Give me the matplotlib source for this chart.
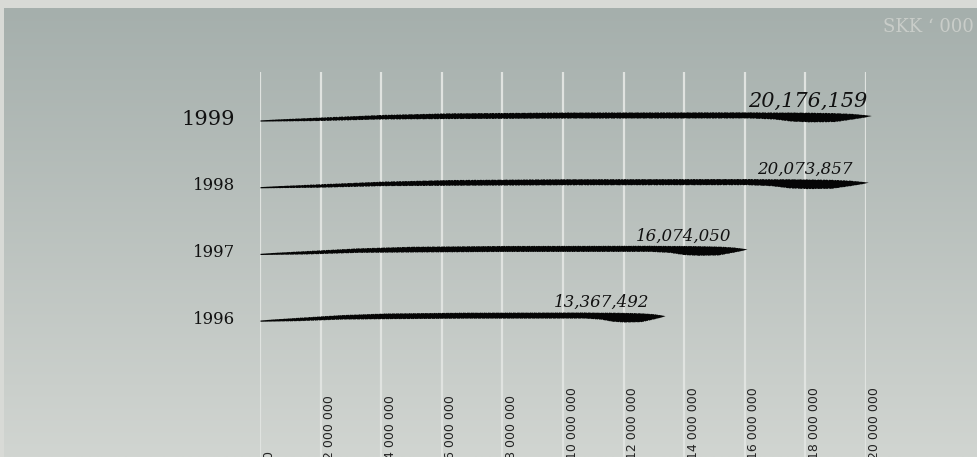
import numpy as np
import matplotlib
matplotlib.use("Agg")
import matplotlib.pyplot as plt
from matplotlib import transforms

# ---- data ----
years = ["1996", "1997", "1998", "1999"]
values = [13367492, 16074050, 20073857, 20176159]
ticks = [0, 2000000, 4000000, 6000000, 8000000, 10000000,
         12000000, 14000000, 16000000, 18000000, 20000000]
unit_label = "SKK \u2018 000"

W, H = 978, 457
DPI = 100
fig = plt.figure(figsize=(W / DPI, H / DPI), dpi=DPI)
fig.patch.set_facecolor("#d8dad6")

# ---- gradient panel ----
bg = fig.add_axes([4 / W, 0, 1 - 4 / W, 1 - 8 / H])
g = np.linspace(0, 1, 256)[:, None, None]
c_top = np.array([165, 175, 172]) / 255
c_bot = np.array([209, 213, 209]) / 255
img = c_top * (1 - g) + c_bot * g
img = np.repeat(img, 2, axis=1)
bg.imshow(img, aspect="auto", extent=[0, 1, 0, 1], interpolation="bilinear")
bg.set_axis_off()

# ---- main axes ----
x0_px, x1_px = 260, 866
top_px = 72
ax = fig.add_axes([x0_px / W, 0, (x1_px - x0_px) / W, (H - top_px) / H])
ax.set_facecolor("none")
ax.set_xlim(0, 20000000)
y_lo, y_hi = -2.044, 3.727
ax.set_ylim(y_lo, y_hi)
ax.set_axis_off()
px_per_y = (H - top_px) / (y_hi - y_lo)

for t in ticks:
    ax.axvline(t, color="#e0e3e0", lw=1.6, zorder=1)

# brush stroke profile (pixels above the category baseline)
T = [0.0, 0.03, 0.094, 0.2, 0.31, 0.5, 0.8, 0.84, 0.87, 0.9, 0.94, 0.97, 0.99, 1.0]
TOP = [0.6, 1.6, 3.3, 6.0, 7.6, 8.4, 8.6, 8.4, 8.4, 8.2, 7.8, 7.0, 5.8, 5.0]
BOT = [-0.6, -0.4, 0.0, 1.6, 2.0, 2.5, 2.6, 1.6, -0.6, -1.3, -1.0, 1.6, 3.6, 5.0]


def texture(t, a, b):
    # fine, irregular edge texture of a dry brush (deterministic)
    s = (np.sin(2 * np.pi * t * 211 + a) * 0.5
         + np.sin(2 * np.pi * t * 97 + b) * 0.3
         + np.sin(2 * np.pi * t * 389 + a + b) * 0.4)
    return np.clip(s, -0.2, 1.0) * 0.6


for i, v in enumerate(values):
    t = np.linspace(0, 1, 1500)
    env = np.clip(t * 10, 0, 1) * np.clip((1 - t) * 30, 0, 1)
    ytop = i + (np.interp(t, T, TOP) - texture(t, i, 2 * i) * env) / px_per_y
    ybot = i + (np.interp(t, T, BOT) + texture(t, 3 * i + 1, i + 2) * env) / px_per_y
    ax.fill_between(t * v, ybot, ytop, color="#050505", lw=0,
                    zorder=3, clip_on=False)

# year labels
for i, yr in enumerate(years):
    fs = 15 if i == len(years) - 1 else 12
    off = transforms.ScaledTranslation(-25 / DPI, 1.5 / DPI, fig.dpi_scale_trans)
    ax.text(0, i, yr, transform=ax.transData + off, ha="right", va="center",
            fontsize=fs, family="DejaVu Serif", color="#111111")

# value labels
for i, v in enumerate(values):
    fs = 15 if i == len(values) - 1 else 12
    off = transforms.ScaledTranslation(0, 13.5 / DPI, fig.dpi_scale_trans)
    ax.text(v - 2100000, i, f"{v:,}", transform=ax.transData + off,
            ha="center", va="baseline", fontsize=fs, style="italic",
            family="DejaVu Serif", color="#111111", clip_on=False)

# tick labels (rotated, running off the bottom edge as in the reference)
blend = transforms.blended_transform_factory(ax.transData, fig.transFigure)
for t in ticks:
    off = transforms.ScaledTranslation(9 / DPI, -2 / DPI, fig.dpi_scale_trans)
    ax.text(t, 0, f"{t:,}".replace(",", " "), transform=blend + off,
            rotation=90, ha="center", va="bottom", fontsize=9,
            family="DejaVu Sans", color="#222222", clip_on=False)

# unit label
fig.text(883 / W, 1 - 27 / H, unit_label, ha="left", va="center",
         fontsize=13, family="DejaVu Serif", color="#c9cdc9")

fig.savefig("out.png", dpi=DPI, facecolor=fig.get_facecolor())
